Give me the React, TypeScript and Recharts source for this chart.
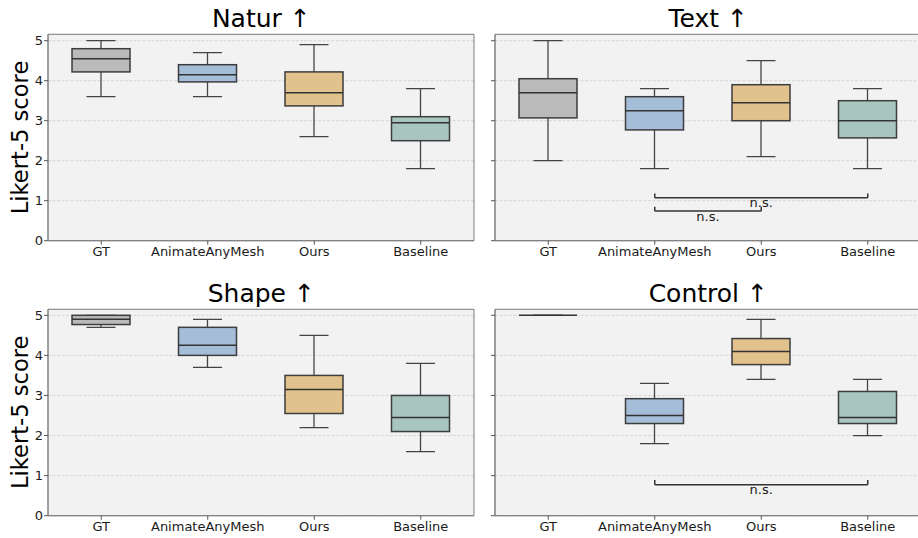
import { ComposedChart, Bar, XAxis, YAxis, CartesianGrid, ReferenceLine, ReferenceArea } from 'recharts'

const categories = ['GT', 'AnimateAnyMesh', 'Ours', 'Baseline']
const yTicks = [0, 1, 2, 3, 4, 5]

// [min, q1, median, q3, max] for each category
const natur = [
  [3.6, 4.22, 4.55, 4.8, 5.0],
  [3.6, 3.97, 4.15, 4.4, 4.7],
  [2.6, 3.37, 3.7, 4.22, 4.9],
  [1.8, 2.5, 2.95, 3.1, 3.8],
]
const text = [
  [2.0, 3.07, 3.7, 4.05, 5.0],
  [1.8, 2.77, 3.25, 3.6, 3.8],
  [2.1, 3.0, 3.45, 3.9, 4.5],
  [1.8, 2.57, 3.0, 3.5, 3.8],
]
const shape = [
  [4.7, 4.77, 4.9, 5.0, 5.0],
  [3.7, 4.0, 4.25, 4.7, 4.9],
  [2.2, 2.55, 3.15, 3.5, 4.5],
  [1.6, 2.1, 2.45, 3.0, 3.8],
]
const control = [
  [5.0, 5.0, 5.0, 5.0, 5.0],
  [1.8, 2.3, 2.5, 2.92, 3.3],
  [3.4, 3.77, 4.1, 4.42, 4.9],
  [2.0, 2.3, 2.45, 3.1, 3.4],
]

// significance brackets: [from, to, line y, tick top y]
const textBrackets: [string, string, number, number][] = [
  ['AnimateAnyMesh', 'Baseline', 1.075, 1.18],
  ['AnimateAnyMesh', 'Ours', 0.74, 0.85],
]
const controlBrackets: [string, string, number, number][] = [
  ['AnimateAnyMesh', 'Baseline', 0.775, 0.89],
]

const boxColors = ['#bababa', '#a6bdda', '#e2c28c', '#a8c6bf']
const FONT = '"DejaVu Sans", sans-serif'

function BoxShape(props: any) {
  const { x, y, width, height, payload } = props
  const { min, q1, median, q3, max, fill } = payload
  const cx = x + width / 2
  const unit = max > min ? height / (max - min) : 0
  const py = (v: number) => y + (max - v) * unit
  const cap = width / 4
  const edge = '#3d3d3d'
  return (
    <g>
      <line x1={cx} x2={cx} y1={py(max)} y2={py(q3)} stroke="#444" strokeWidth={1.3} />
      <line x1={cx} x2={cx} y1={py(q1)} y2={py(min)} stroke="#444" strokeWidth={1.3} />
      <line x1={cx - cap} x2={cx + cap} y1={py(max)} y2={py(max)} stroke="#444" strokeWidth={1.3} />
      <line x1={cx - cap} x2={cx + cap} y1={py(min)} y2={py(min)} stroke="#444" strokeWidth={1.3} />
      <rect x={x} y={py(q3)} width={width} height={py(q1) - py(q3)} fill={fill} stroke={edge} strokeWidth={1.5} />
      <line x1={x} x2={x + width} y1={py(median)} y2={py(median)} stroke="#333" strokeWidth={1.5} />
    </g>
  )
}

interface PanelProps {
  stats: number[][]
  left: number
  top: number
  ymax: number
  showYLabels: boolean
  brackets?: [string, string, number, number][]
}

function Panel({ stats, left, top, ymax, showYLabels, brackets = [] }: PanelProps) {
  const rows = categories.map((name, i) => ({
    name,
    min: stats[i][0],
    q1: stats[i][1],
    median: stats[i][2],
    q3: stats[i][3],
    max: stats[i][4],
    fill: boxColors[i],
  }))

  return (
    <div style={{ position: 'absolute', left, top }}>
      <ComposedChart
        width={480}
        height={270}
        data={rows}
        margin={{ top: 34.3, right: 6, bottom: 4.3, left: 0 }}
        style={{ fontFamily: FONT }}
      >
        <CartesianGrid vertical={false} fill="#f2f2f2" stroke="#d6d6d6" strokeDasharray="3 1.5" />
        <ReferenceArea y1={0} y2={ymax} fill="none" stroke="#808080" strokeWidth={1} ifOverflow="visible" />
        <XAxis
          dataKey="name"
          height={25}
          interval={0}
          tickSize={4}
          tickMargin={2}
          tick={{ fontSize: 13, fill: '#1a1a1a', fontFamily: FONT }}
          axisLine={{ stroke: '#808080' }}
          tickLine={{ stroke: '#555' }}
        />
        <YAxis
          domain={[0, ymax]}
          ticks={yTicks}
          allowDataOverflow
          width={48}
          tickSize={4}
          tickMargin={1}
          tickFormatter={(v) => (showYLabels ? String(v) : '')}
          tick={{ fontSize: 13, fill: '#1a1a1a', fontFamily: FONT }}
          axisLine={{ stroke: '#808080' }}
          tickLine={{ stroke: '#555' }}
        />
        <Bar
          dataKey={(d: any) => [d.min, d.max]}
          barSize={58}
          shape={BoxShape}
          isAnimationActive={false}
        />
        {brackets.map(([from, to, ly, ty], i) => (
          <ReferenceLine
            key={`h${i}`}
            segment={[{ x: from, y: ly }, { x: to, y: ly }]}
            stroke="#333"
            strokeWidth={1.5}
            label={{ value: 'n.s.', position: 'bottom', offset: 0.5, fontSize: 13, fill: '#1a1a1a', fontFamily: FONT }}
          />
        ))}
        {brackets.map(([from, , ly, ty], i) => (
          <ReferenceLine
            key={`a${i}`}
            segment={[{ x: from, y: ly }, { x: from, y: ty }]}
            stroke="#333"
            strokeWidth={1.5}
          />
        ))}
        {brackets.map(([, to, ly, ty], i) => (
          <ReferenceLine
            key={`b${i}`}
            segment={[{ x: to, y: ly }, { x: to, y: ty }]}
            stroke="#333"
            strokeWidth={1.5}
          />
        ))}
      </ComposedChart>
    </div>
  )
}

export default function App() {
  return (
    <div style={{ position: 'absolute', left: 0, top: 0, width: 918, height: 538, overflow: 'hidden', background: '#fff' }}>
      <Panel stats={natur} left={0} top={0} ymax={5.16} showYLabels />
      <Panel stats={text} left={447} top={0} ymax={5.16} showYLabels={false} brackets={textBrackets} />
      <Panel stats={shape} left={0} top={274.7} ymax={5.15} showYLabels />
      <Panel stats={control} left={447} top={274.7} ymax={5.15} showYLabels={false} brackets={controlBrackets} />
      <svg width={918} height={538} style={{ position: 'absolute', left: 0, top: 0, pointerEvents: 'none' }}>
        <g fontFamily={FONT} fill="#000">
          <text x={261.3} y={26.7} fontSize={25} textAnchor="middle">Natur ↑</text>
          <text x={708.3} y={26.7} fontSize={25} textAnchor="middle">Text ↑</text>
          <text x={261.3} y={301.7} fontSize={25} textAnchor="middle">Shape ↑</text>
          <text x={708.3} y={301.7} fontSize={25} textAnchor="middle">Control ↑</text>
          <text transform="translate(28.3,137.5) rotate(-90)" fontSize={22.6} textAnchor="middle">Likert-5 score</text>
          <text transform="translate(28.3,412.3) rotate(-90)" fontSize={22.6} textAnchor="middle">Likert-5 score</text>
        </g>
      </svg>
    </div>
  )
}
